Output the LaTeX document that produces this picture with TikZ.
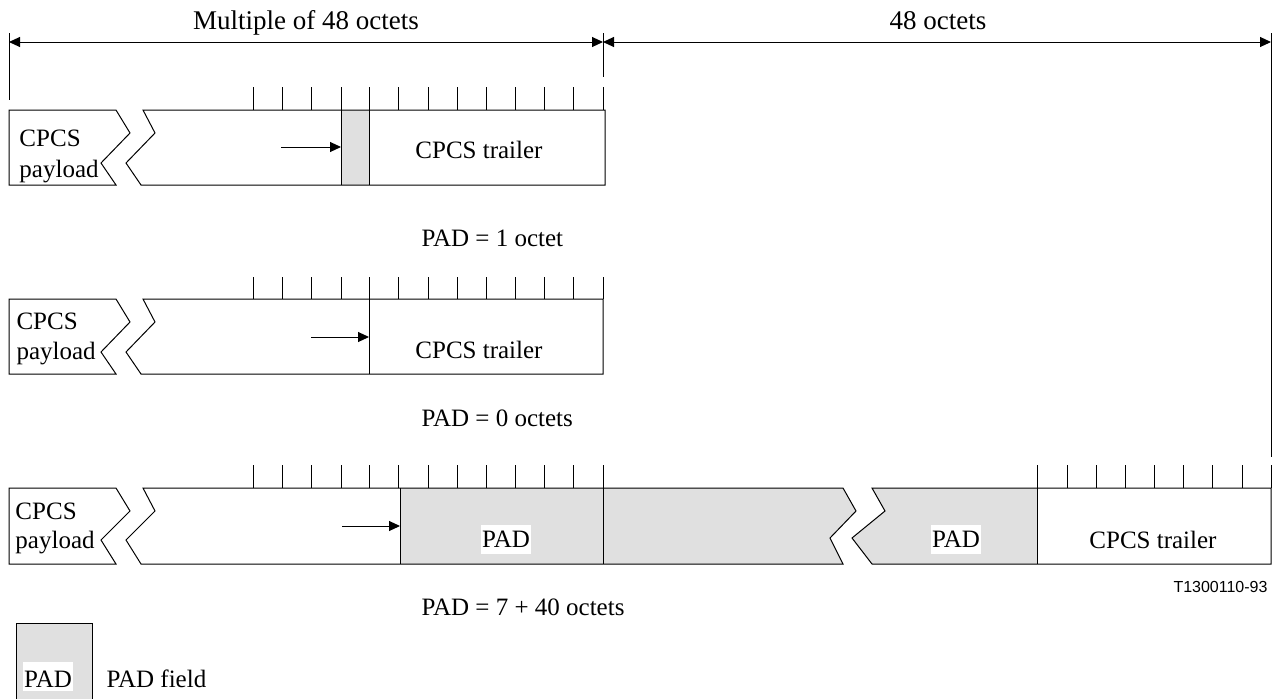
\documentclass[tikz,border=0pt]{standalone}
\usepackage{fontspec}
\setmainfont{Liberation Serif}
\newfontfamily\figsans{Liberation Sans}
\usetikzlibrary{arrows.meta}
\definecolor{padgray}{RGB}{224,224,224}
\begin{document}
\begin{tikzpicture}[x=1pt,y=-1pt,line width=1pt,
  lbl/.style={font=\fontsize{25}{30}\selectfont, inner sep=0pt},
  toplbl/.style={font=\fontsize{27}{30}\selectfont, inner sep=0pt},
  padlbl/.style={font=\fontsize{25}{30}\selectfont, fill=white, inner xsep=1.5pt, inner ysep=1.5pt, text height=21pt, text depth=5pt},
  frame/.style={draw=black, line join=miter},
  tickline/.style={draw=black},
  arr/.style={-{Triangle[length=11pt,width=10pt]}},
  dimline/.style={{Triangle[length=11pt,width=10pt]}-{Triangle[length=11pt,width=10pt]}},
]
\useasboundingbox (0,0) rectangle (1273,699);

% ---------- top dimensions ----------
\coordinate (dL) at (9,42);
\coordinate (dM) at (603,42);
\coordinate (dR) at (1271,42);
\draw (9,33) -- (9,100);
\draw (603,33) -- (603,77);
\draw (1271,33) -- (1271,457);
\draw[dimline] (dL) -- (dM);
\draw[dimline] (dM) -- (dR);
\node[toplbl, anchor=base] (mul) at (306,29) {Multiple of 48 octets};
\node[toplbl, anchor=base] (oct) at (938,29) {48 octets};

% ---------- row 1 ----------
\fill[padgray] (341,110) rectangle (369,185);
\draw[frame] (9,110) -- (116,110) -- (130,133) -- (101,163) -- (116,185) -- (9,185) -- cycle;
\draw[frame] (605,110) -- (143,110) -- (155,133) -- (126,163) -- (141,185) -- (605,185) -- cycle;
\draw (341,110) -- (341,185);
\draw (369,110) -- (369,185);
\foreach \x in {253,282,311,341,369,398,428,457,486,515,544,573,603} \draw[tickline] (\x,87) -- ++(0,23);
\node[lbl, anchor=base west] (p1a) at (19,146) {CPCS};
\node[lbl, anchor=base west] (p1b) at (19,177) {payload};
\node[lbl, anchor=base] (t1) at (479,158) {CPCS trailer};
\coordinate (a1s) at (281,147);
\coordinate (a1e) at (341,147);
\draw[arr] (a1s) -- (a1e);
\node[lbl, anchor=base west] (pad1) at (421,246) {PAD = 1 octet};

% ---------- row 2 ----------
\draw[frame] (9,299) -- (116,299) -- (130,322) -- (101,352) -- (116,374) -- (9,374) -- cycle;
\draw[frame] (603,299) -- (143,299) -- (155,322) -- (126,352) -- (141,374) -- (603,374) -- cycle;
\draw (369,299) -- (369,374);
\foreach \x in {253,282,311,341,369,398,428,457,486,515,544,573,603} \draw[tickline] (\x,277) -- ++(0,22);
\node[lbl, anchor=base west] (p2a) at (16,329) {CPCS};
\node[lbl, anchor=base west] (p2b) at (16,359) {payload};
\node[lbl, anchor=base] (t2) at (479,358) {CPCS trailer};
\coordinate (a2s) at (311,337);
\coordinate (a2e) at (369,337);
\draw[arr] (a2s) -- (a2e);
\node[lbl, anchor=base west] (pad0) at (421,426) {PAD = 0 octets};

% ---------- row 3 ----------
\fill[padgray] (400,488) -- (843,488) -- (856,511) -- (830,538) -- (843,564) -- (400,564) -- cycle;
\fill[padgray] (872,488) -- (1037,488) -- (1037,564) -- (872,564) -- (852,538) -- (885,511) -- cycle;
\draw[frame] (9,488) -- (116,488) -- (130,511) -- (101,540) -- (116,564) -- (9,564) -- cycle;
\draw[frame] (143,488) -- (843,488) -- (856,511) -- (830,538) -- (843,564) -- (141,564) -- (126,540) -- (155,511) -- cycle;
\draw[frame] (872,488) -- (1271,488) -- (1271,564) -- (872,564) -- (852,538) -- (885,511) -- cycle;
\draw (400,488) -- (400,564);
\draw (603,488) -- (603,564);
\draw (1037,488) -- (1037,564);
\foreach \x in {253,282,311,341,369,398,428,457,486,515,544,573,603} \draw[tickline] (\x,465) -- ++(0,23);
\foreach \x in {1037,1067,1096,1125,1154,1183,1212,1242,1271} \draw[tickline] (\x,465) -- ++(0,23);
\node[lbl, anchor=base west] (p3a) at (15,519) {CPCS};
\node[lbl, anchor=base west] (p3b) at (15,548) {payload};
\node[padlbl, anchor=base] (padA) at (506,547) {PAD};
\node[padlbl, anchor=base] (padB) at (956,547) {PAD};
\node[lbl, anchor=base] (t3) at (1153,548) {CPCS trailer};
\coordinate (a3s) at (342,526);
\coordinate (a3e) at (400,526);
\draw[arr] (a3s) -- (a3e);
\node[lbl, anchor=base west] (pad47) at (421,615) {PAD = 7 + 40 octets};
\node[font=\figsans\fontsize{16}{18}\selectfont, inner sep=0pt, anchor=base east] (code) at (1268,592) {T1300110-93};

% ---------- legend ----------
\fill[padgray] (16,623) rectangle (92,699);
\draw (16,699) -- (16,623) -- (92,623) -- (92,699);
\node[padlbl, anchor=base, text height=24pt, text depth=2pt] (legpad) at (48,687) {PAD};
\node[lbl, anchor=base west] (legtxt) at (106,687) {PAD field};
\end{tikzpicture}
\end{document}
